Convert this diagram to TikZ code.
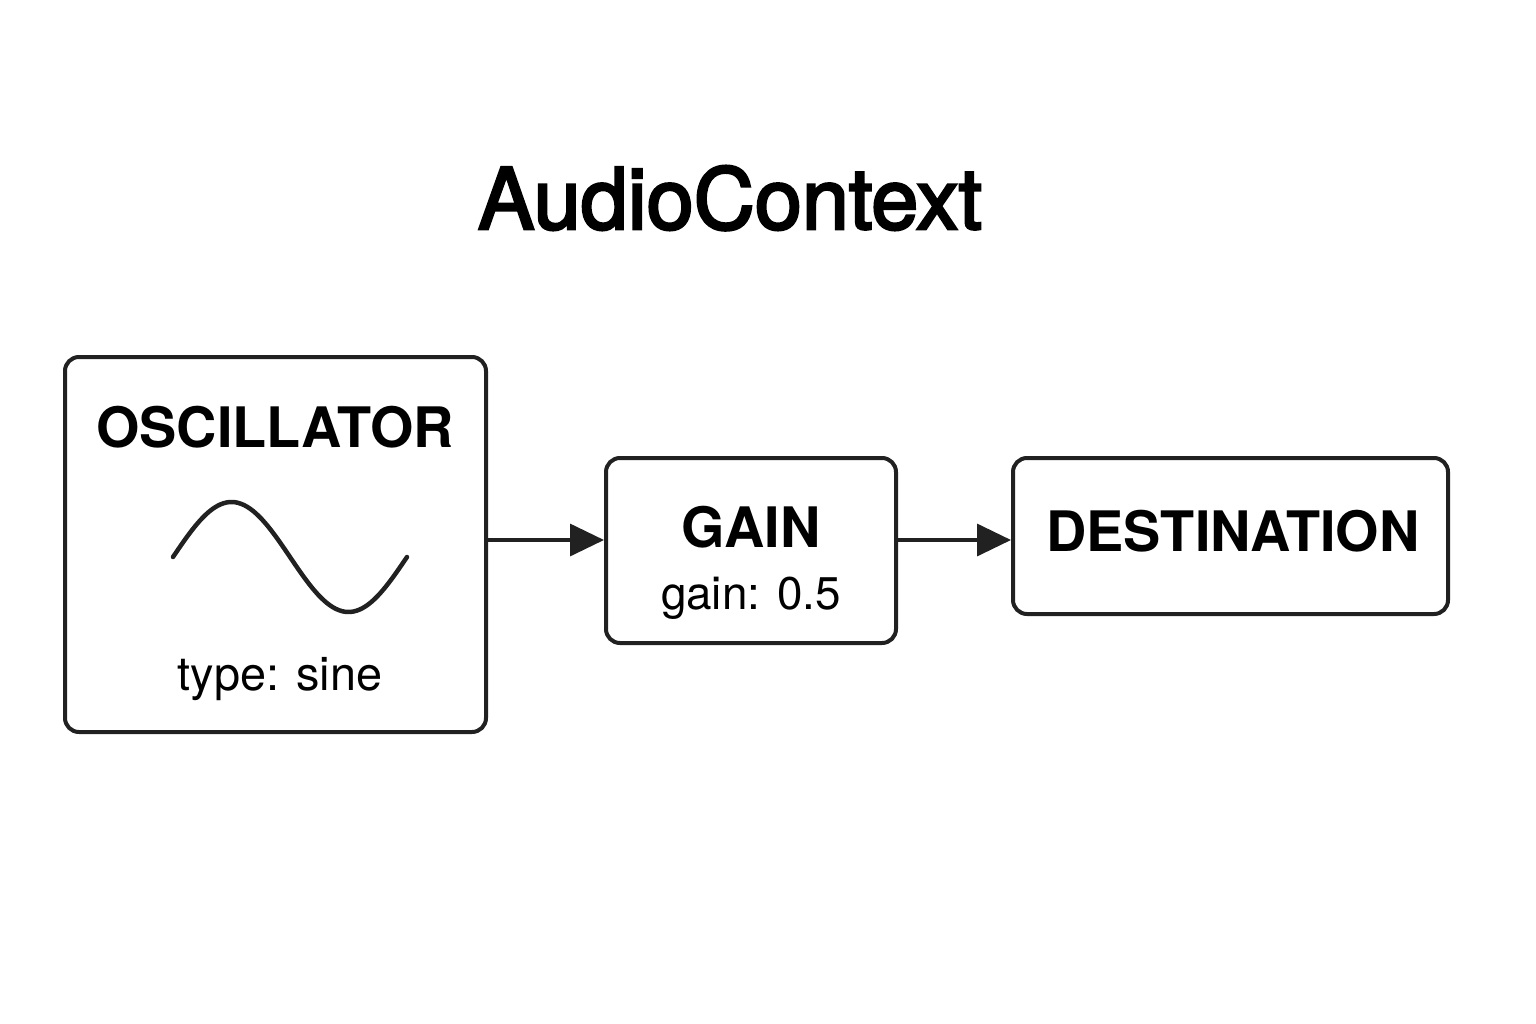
\documentclass[tikz,border=0pt]{standalone}
\usepackage{fontspec}
\setmainfont{TeX Gyre Heros}
\newfontfamily\titlefont[FakeBold=3]{TeX Gyre Heros}
\usepackage{tikz}
\usetikzlibrary{arrows.meta,shapes}

\tikzset{
  blockbox/.style={draw=black!87,line width=4bp,rounded corners=14bp,inner sep=0pt},
  headtext/.style={anchor=base,inner sep=0pt,font=\fontsize{56}{60}\selectfont\bfseries},
  paramtext/.style={anchor=base,inner sep=0pt,font=\fontsize{46}{52}\selectfont},
  flow/.style={-{Triangle[length=34bp,width=32bp]},line width=3.5bp,draw=black!87}
}

\begin{document}
\begin{tikzpicture}[x=1bp,y=1bp]
\useasboundingbox (0bp,0bp) rectangle (1536bp,-1024bp);
\node (title) at (730bp,-229bp)[anchor=base,inner sep=0pt,font=\titlefont\fontsize{85}{90}\selectfont] {AudioContext};
\node (osc) at (275.5bp,-544.5bp)[blockbox,minimum width=421bp,minimum height=375bp] {};
\node (gain) at (751bp,-550.5bp)[blockbox,minimum width=290bp,minimum height=185bp] {};
\node (dest) at (1230.5bp,-536bp)[blockbox,minimum width=435bp,minimum height=156bp] {};
\node (oscT) at (275bp,-447bp)[headtext] {OSCILLATOR};
\node (oscP) at (280bp,-690bp)[paramtext,font=\fontsize{47}{52}\selectfont] {type: sine};
\node (gainT) at (751bp,-547bp)[headtext] {GAIN};
\node (gainP) at (751bp,-609bp)[paramtext] {gain: 0.5};
\node (destT) at (1233bp,-551bp)[headtext] {DESTINATION};
\draw [line width=4.5bp,draw=black!87,line cap=round] plot[domain=0:360,samples=80] ({173+0.65*\x},{55*sin(\x)-557});
\draw [flow] (osc.east |- 0,-540bp) -- (gain.west |- 0,-540bp);
\draw [flow] (gain.east |- 0,-540bp) -- (dest.west |- 0,-540bp);
\end{tikzpicture}
\end{document}
